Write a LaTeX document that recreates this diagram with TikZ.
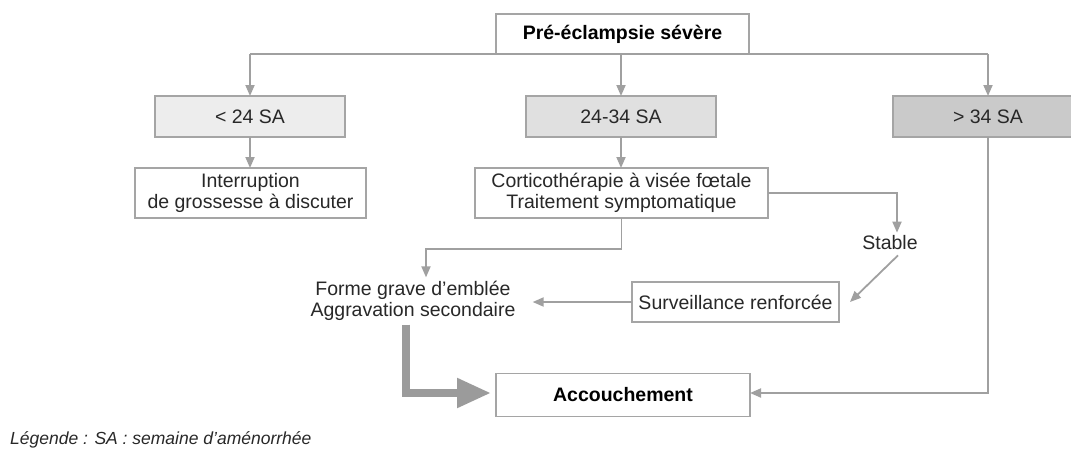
\documentclass[tikz,border=0pt]{standalone}
\usepackage{fontspec}
\setmainfont{Liberation Sans}
\usetikzlibrary{arrows.meta}
\definecolor{linegray}{RGB}{160,160,160}
\definecolor{boxgray}{RGB}{165,165,165}
\definecolor{fillA}{RGB}{237,237,237}
\definecolor{fillB}{RGB}{224,224,224}
\definecolor{fillC}{RGB}{202,202,202}
\definecolor{thickgray}{RGB}{155,155,155}
\definecolor{txt}{RGB}{40,40,40}
\tikzset{
  box/.style={draw=boxgray, line width=1.6pt, fill=white, inner sep=0pt, outer sep=0pt,
    align=center, text=txt, font=\fontsize{19.5}{20.5}\selectfont},
  plain/.style={inner sep=3pt, align=center, text=txt, font=\fontsize{19.5}{20.5}\selectfont},
  conn/.style={draw=linegray, line width=1.8pt},
  arr/.style={conn, -{Triangle[length=11pt,width=9pt]}},
  bigarr/.style={draw=thickgray, line width=8pt, -{Triangle[length=34pt,width=28pt]}},
}
\begin{document}
\begin{tikzpicture}[x=1pt,y=-1pt]
\useasboundingbox[fill=white] (0,0) rectangle (1071,448);
% nodes
\node[box, minimum width=253pt, minimum height=40pt, text=black, font=\fontsize{19.5}{20.5}\selectfont\bfseries] (top) at (622.5,34) {Pré-éclampsie sévère};
\node[box, fill=fillA, minimum width=190pt, minimum height=41pt] (lt) at (250,116.5) {< 24 SA};
\node[box, fill=fillB, minimum width=190pt, minimum height=41pt] (mid) at (621,116.5) {24-34 SA};
\node[box, fill=fillC, minimum width=190pt, minimum height=41pt] (gt) at (988,116.5) {> 34 SA};
\node[box, minimum width=231pt, minimum height=50pt] (interr) at (250.5,193) {Interruption\\de grossesse à discuter};
\node[box, minimum width=293pt, minimum height=50pt] (cortico) at (621.5,193) {Corticothérapie à visée fœtale\\Traitement symptomatique};
\node[plain] (stable) at (890,243) {Stable};
\node[plain, inner sep=4pt] (forme) at (413,301) {Forme grave d’emblée\\Aggravation secondaire};
\node[box, minimum width=207pt, minimum height=40pt] (surv) at (735.5,302) {Surveillance renforcée};
\node[box, minimum width=254pt, minimum height=43pt, text=black, font=\fontsize{19.5}{20.5}\selectfont\bfseries] (acc) at (623,395) {Accouchement};
\node[anchor=west, inner sep=0pt, text=txt, font=\fontsize{17.5}{18}\selectfont\itshape] (leg) at (10,440) {Légende : SA : semaine d’aménorrhée};
\coordinate (bend) at (426,249);
% connectors
\draw[conn] (top.south -| lt.north) -- (top.south -| gt.north);
\draw[arr] (top.south -| lt.north) -- (lt.north);
\draw[arr] (top.south -| mid.north) -- (mid.north);
\draw[arr] (top.south -| gt.north) -- (gt.north);
\draw[arr] (lt.south) -- (lt.south |- interr.north);
\draw[arr] (mid.south) -- (mid.south |- cortico.north);
\draw[arr] (cortico.east) -| ([xshift=7pt]stable.north);
\draw[arr] (cortico.south) |- (bend) -- (bend |- forme.north);
\draw[arr] ([xshift=8pt,yshift=-2pt]stable.south) -- ([xshift=11pt]surv.east);
\draw[arr] (surv.west) -- ([xshift=13pt]forme.east |- surv.west);
\draw[bigarr] ([xshift=-7pt]forme.south) |- ([xshift=-5pt,yshift=2pt]acc.west);
\draw[arr] (gt.south) |- ([yshift=2pt]acc.east);
\end{tikzpicture}
\end{document}
